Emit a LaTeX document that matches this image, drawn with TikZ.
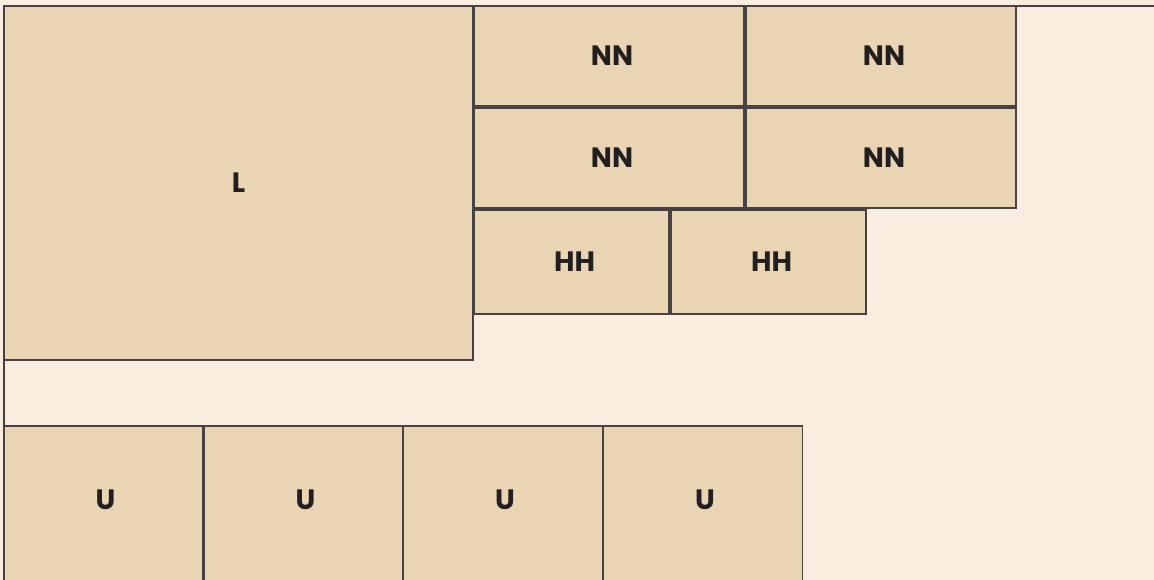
\documentclass[tikz,border=0pt]{standalone}
\usepackage{fontspec}
\setmainfont{Poppins}
\usetikzlibrary{positioning}
\definecolor{paper}{HTML}{F8EDDE}
\definecolor{tanfill}{HTML}{E9D5B4}
\definecolor{edge}{HTML}{474241}
\definecolor{ink}{HTML}{231F20}

\begin{document}
\begin{tikzpicture}[
  x=1pt, y=-1pt,
  every node/.style={text=ink, font=\fontsize{28}{30}\selectfont\bfseries},
  block/.style={draw=edge, fill=tanfill, line width=1.4pt, inner sep=0pt, outer sep=0pt},
]

% Background
\useasboundingbox (0,0) rectangle (1154,580);
\clip (0,0) rectangle (1154,580);
\fill[paper] (0,0) rectangle (1154,580);

% Frame lines
\coordinate (topleft) at (4,6);
\coordinate (topright) at (1154,6);
\coordinate (bottomleft) at (4,580);
\draw[edge, line width=1.4pt] (bottomleft) -- (topleft) -- (topright);

% Large block
\node[block, minimum width=469pt, minimum height=354pt] (L) at (238.5,183) {L};

% NN blocks
\node[block, minimum width=270pt, minimum height=100pt] (nn1) at (609,56) {\hspace*{6pt}NN};
\node[block, minimum width=270pt, minimum height=100pt] (nn2) at (881,56) {\hspace*{6pt}NN};
\node[block, minimum width=270pt, minimum height=100pt] (nn3) at (609,158) {\hspace*{6pt}NN};
\node[block, minimum width=270pt, minimum height=100pt] (nn4) at (881,158) {\hspace*{6pt}NN};

% HH blocks
\node[block, minimum width=195pt, minimum height=104pt] (hh1) at (571.5,262) {\hspace*{6pt}HH};
\node[block, minimum width=195pt, minimum height=104pt] (hh2) at (768.5,262) {\hspace*{6pt}HH};

% U blocks (run off the bottom edge)
\foreach \i/\cx in {1/103.5, 2/303.5, 3/503, 4/703} {
  \node[block, minimum width=199pt, minimum height=160pt,
        label={[yshift=6pt, xshift=2pt]center:U}] (u\i) at (\cx,506) {};
}

\end{tikzpicture}
\end{document}
